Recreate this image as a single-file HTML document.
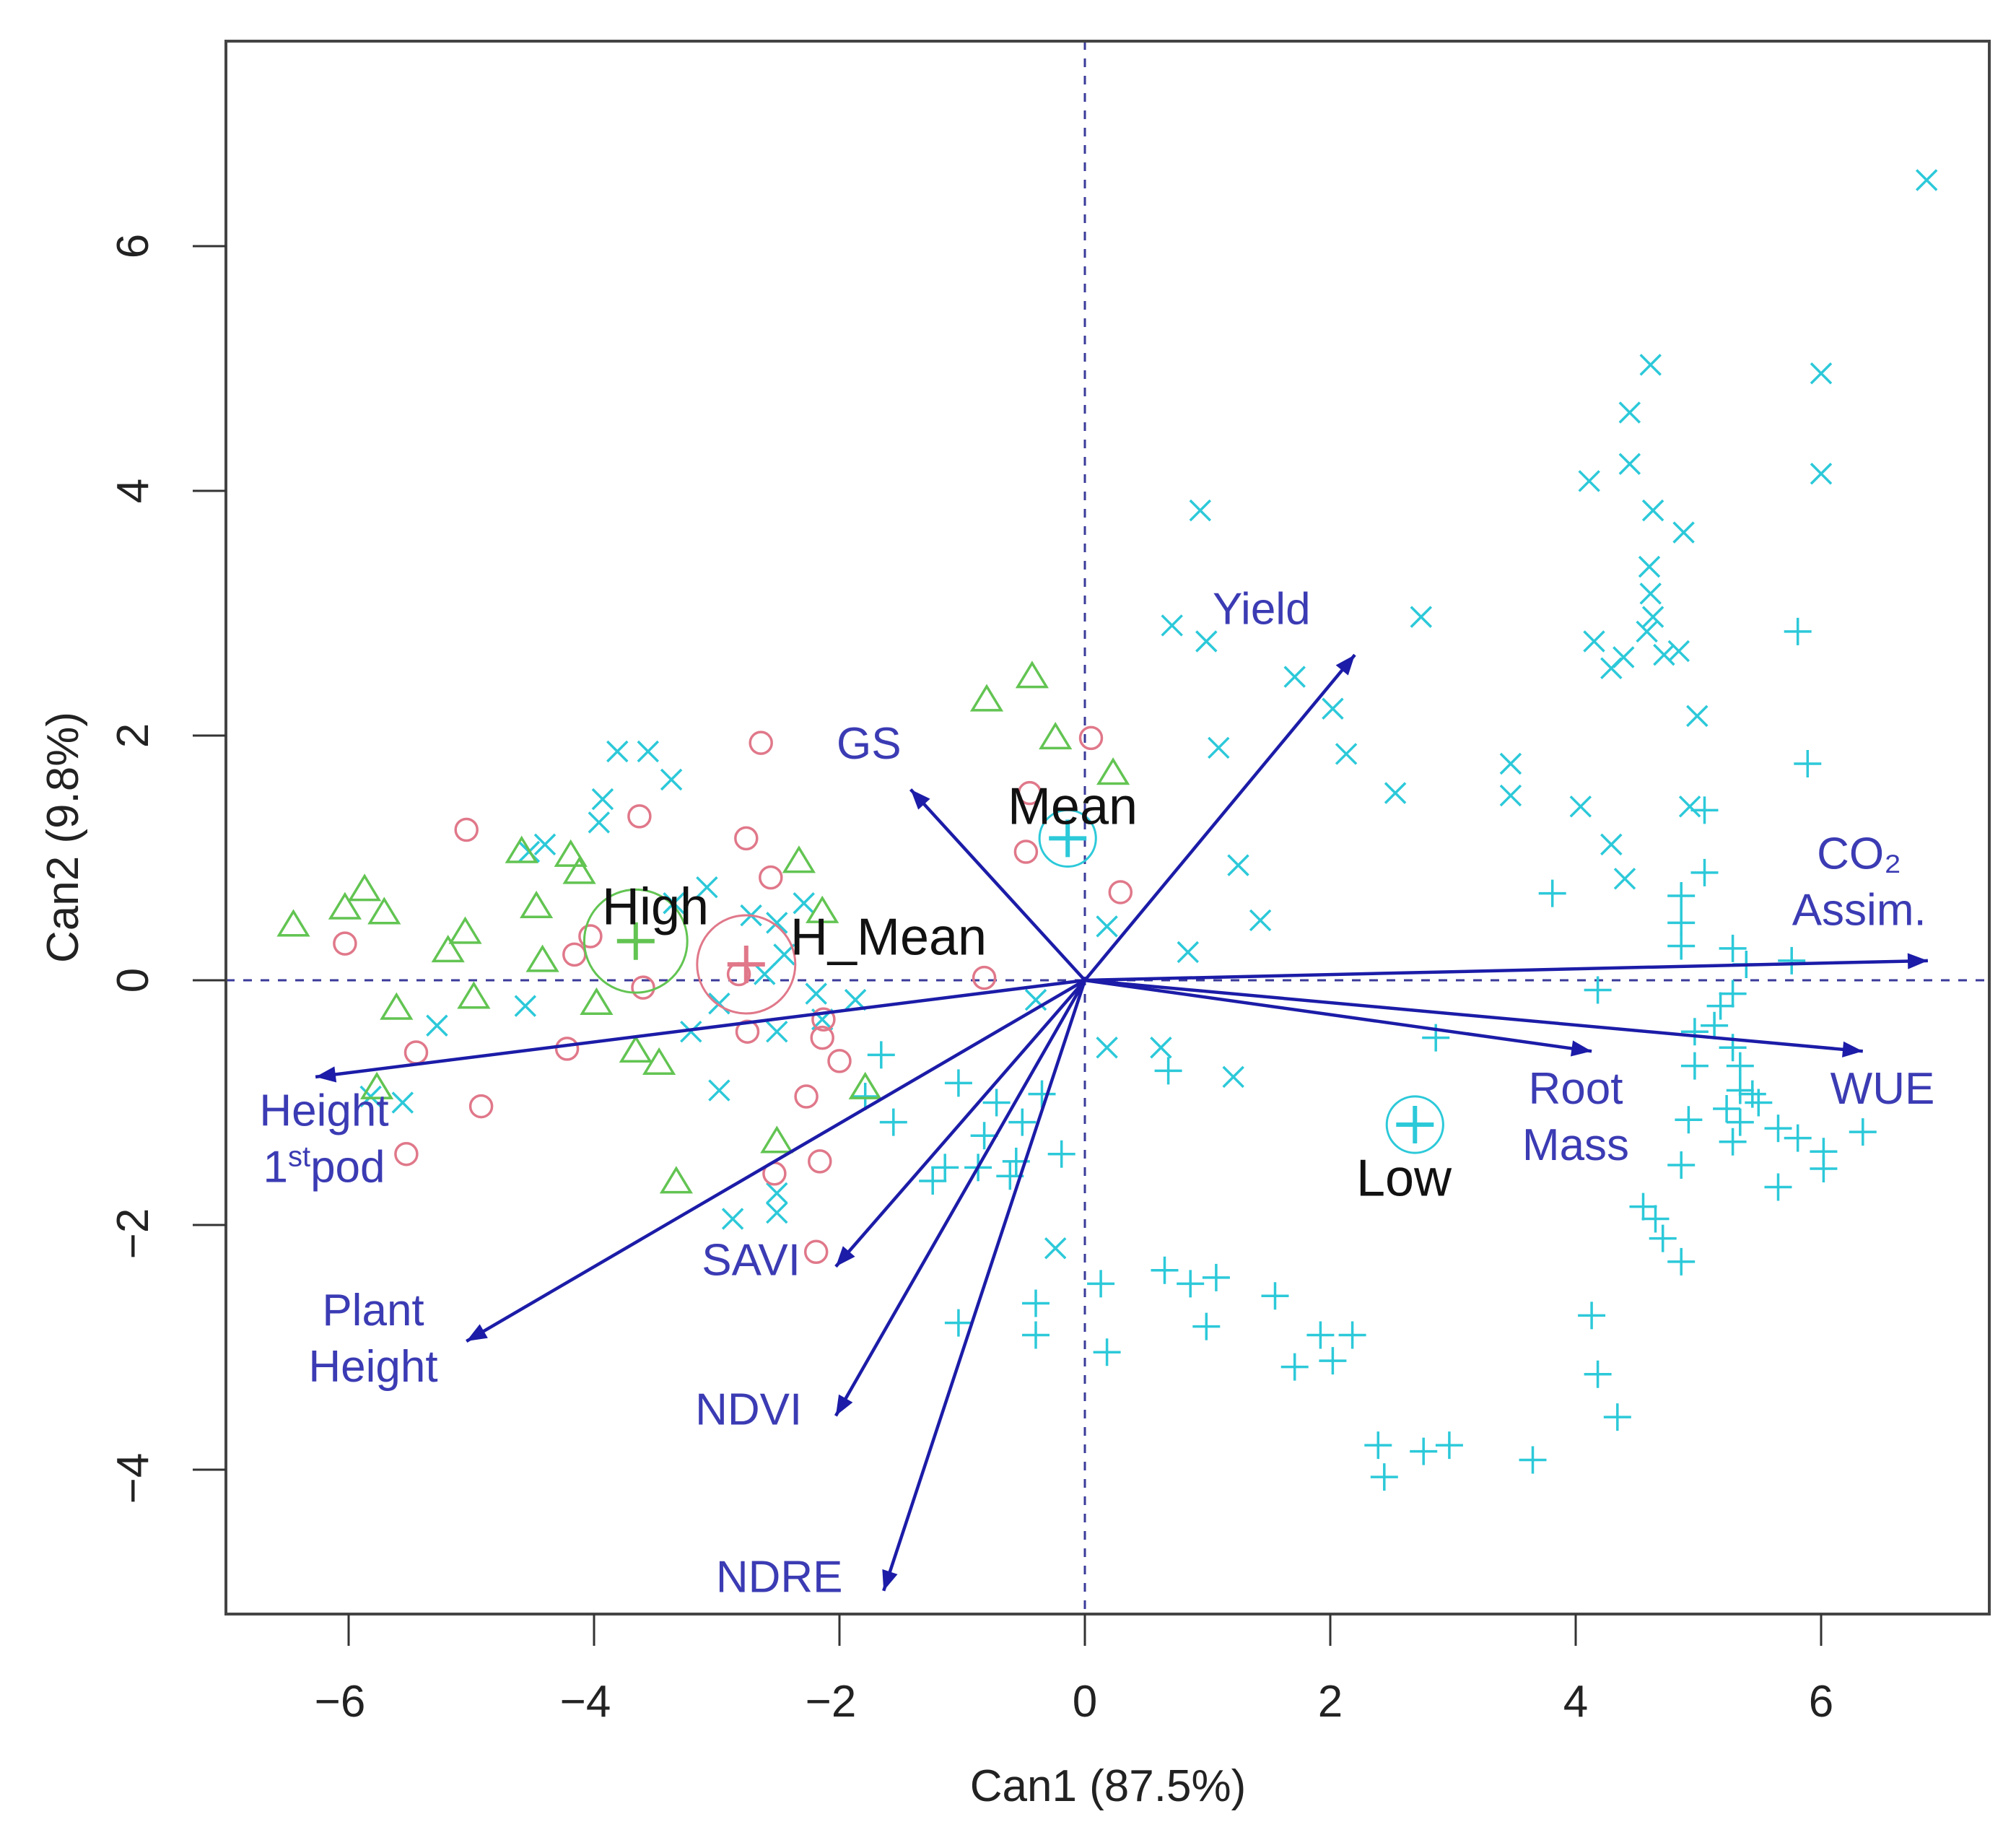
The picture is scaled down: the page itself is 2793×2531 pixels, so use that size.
<!DOCTYPE html>
<html><head><meta charset="utf-8"><style>
html,body{margin:0;padding:0;background:#fff}
svg{display:block}
text{font-family:"Liberation Sans",sans-serif}
</style></head><body>
<svg id="chart" width="2793" height="2531" viewBox="0 0 2793 2531" xmlns="http://www.w3.org/2000/svg">
<rect x="0" y="0" width="2793" height="2531" fill="#fff"/>
<g id="marks"></g>
<rect x="313" y="57" width="2443" height="2179" fill="none" stroke="#444" stroke-width="4"/>
<g id="axes"></g>
<text x="1535" y="2495" font-size="62" fill="#222" text-anchor="middle">Can1 (87.5%)</text>
<text transform="translate(108,1160) rotate(-90)" font-size="62" fill="#222" text-anchor="middle">Can2 (9.8%)</text>
</svg>
<script>
const xTicks=[-6,-4,-2,0,2,4,6];
const yTicks=[-4,-2,0,2,4,6];
const tickLabels=["−6","−4","−2","0","2","4","6"];
const yTickLabels=["−4","−2","0","2","4","6"];
const meanX=[[6.86,6.54],[4.61,5.03],[6.0,4.96],[4.44,4.64],[6.0,4.14],[4.44,4.22],[4.11,4.08],[0.94,3.84],[4.63,3.84],[4.88,3.66],[4.6,3.38],[4.61,3.16],[4.63,2.97],[4.58,2.85],[0.71,2.9],[0.99,2.77],[2.74,2.97],[4.15,2.77],[4.39,2.64],[4.29,2.55],[4.72,2.66],[4.84,2.69],[1.71,2.48],[2.02,2.22],[4.99,2.16],[2.13,1.85],[1.09,1.9],[3.47,1.77],[3.47,1.51],[2.53,1.53],[4.04,1.42],[4.93,1.42],[4.29,1.11],[1.25,0.94],[4.4,0.83],[1.43,0.49],[0.84,0.23],[-3.81,1.87],[-3.56,1.87],[-3.37,1.64],[-3.93,1.48],[-3.96,1.29],[-4.4,1.11],[-4.53,1.05],[-3.35,0.63],[-3.08,0.76],[-2.29,0.63],[-2.72,0.53],[-2.51,0.47],[-2.45,0.21],[-2.61,0.05],[-2.19,-0.11],[-2.98,-0.19],[-2.51,-0.42],[-3.21,-0.42],[-2.98,-0.9],[-4.56,-0.21],[-5.28,-0.37],[-5.56,-1.0],[-2.87,-1.95],[-2.51,-1.9],[-2.51,-1.74],[0.18,0.44],[-0.4,-0.16],[0.18,-0.55],[0.62,-0.55],[1.21,-0.79],[-0.24,-2.19],[-1.87,-0.16],[-2.14,-0.32],[-5.82,-0.95]];
const lowPlus=[[2.86,-0.47],[0.68,-0.74],[4.18,-0.08],[3.81,0.71],[5.81,2.85],[5.89,1.77],[5.05,1.39],[5.05,0.88],[4.86,0.69],[4.86,0.47],[4.86,0.28],[5.28,0.26],[5.76,0.16],[5.39,0.13],[5.28,-0.11],[5.18,-0.21],[5.13,-0.37],[4.97,-0.42],[5.28,-0.55],[4.97,-0.7],[5.34,-0.7],[5.34,-0.9],[5.44,-0.93],[5.49,-1.0],[5.23,-1.05],[5.34,-1.16],[5.65,-1.21],[4.92,-1.14],[5.28,-1.32],[6.34,-1.24],[5.81,-1.29],[6.02,-1.4],[6.02,-1.54],[4.86,-1.51],[5.65,-1.69],[4.55,-1.85],[4.65,-1.95],[4.71,-2.11],[4.86,-2.3],[-1.66,-0.61],[-1.79,-0.95],[-1.56,-1.16],[-1.03,-0.84],[-0.72,-1.0],[-0.35,-0.93],[-0.51,-1.16],[-0.82,-1.27],[-0.87,-1.53],[-1.14,-1.53],[-1.24,-1.64],[-0.56,-1.48],[-0.61,-1.6],[-0.19,-1.42],[0.13,-2.48],[0.65,-2.37],[0.86,-2.48],[1.07,-2.43],[1.55,-2.58],[0.99,-2.83],[0.18,-3.04],[-0.4,-2.64],[-0.4,-2.9],[-1.03,-2.8],[1.71,-3.16],[2.02,-3.11],[1.92,-2.9],[2.18,-2.9],[2.39,-3.8],[2.44,-4.06],[2.76,-3.85],[2.97,-3.8],[3.65,-3.92],[4.13,-2.74],[4.18,-3.22],[4.34,-3.57]];
const hmeanCircles=[[-2.64,1.94],[0.05,1.98],[-5.04,1.23],[-3.63,1.34],[-2.76,1.16],[-2.56,0.84],[-0.48,1.05],[0.29,0.72],[-4.16,0.21],[-3.6,-0.06],[-6.03,0.3],[-5.45,-0.59],[-4.92,-1.03],[-4.22,-0.56],[-2.75,-0.42],[-2.14,-0.47],[-2.0,-0.66],[-2.27,-0.95],[-0.82,0.02],[-2.53,-1.58],[-2.16,-1.48],[-5.53,-1.42],[-2.19,-2.22],[-2.82,0.05],[-4.03,0.36],[-2.13,-0.32],[-0.45,1.53]];
const highTriangles=[[-0.8,2.29],[-0.43,2.48],[-0.24,1.98],[0.23,1.69],[-6.45,0.45],[-6.03,0.59],[-5.87,0.74],[-5.71,0.55],[-5.05,0.39],[-4.59,1.05],[-4.19,1.02],[-4.12,0.88],[-4.47,0.6],[-5.19,0.24],[-4.98,-0.14],[-5.61,-0.23],[-4.42,0.16],[-3.98,-0.19],[-3.66,-0.58],[-3.47,-0.68],[-3.33,-1.65],[-2.51,-1.32],[-2.33,0.97],[-2.14,0.56],[-5.77,-0.88],[-1.79,-0.88]];
const groupNames=["High","H_Mean","Mean","Low"];
const groupMeans=[[-3.66,0.32],[-2.76,0.13],[-0.14,1.16],[2.69,-1.18]];
const groupRadius=[0.42,0.4,0.23,0.23];
const varNames=["Yield","GS","CO2 Assim.","WUE","Root Mass","Height 1st pod","Plant Height","SAVI","NDVI","NDRE"];
const varX=[2.2,-1.42,6.87,6.34,4.13,-6.27,-5.04,-2.03,-2.03,-1.64];
const varY=[2.66,1.56,0.16,-0.58,-0.58,-0.79,-2.95,-2.34,-3.56,-4.99];

const NS="http://www.w3.org/2000/svg";
const X=v=>1503+170*v, Y=v=>1358-169.5*v;
const marks=document.getElementById('marks'), axes=document.getElementById('axes');
function mk(tag,attrs,parent){const e=document.createElementNS(NS,tag);for(const k in attrs)e.setAttribute(k,attrs[k]);(parent||marks).appendChild(e);return e;}
const CY="#2cc9d9",RD="#e0788a",GR="#62c452",AR="#1c1ca8",LB="#3b3bb4";

// reference lines
let l=mk('line',{x1:X(0),x2:X(0),y1:57,y2:2236,stroke:"#3a3a9a","stroke-width":3,"stroke-dasharray":"12 12"});


l=mk('line',{x1:313,x2:2756,y1:Y(0),y2:Y(0),stroke:"#3a3a9a","stroke-width":3,"stroke-dasharray":"12 12"});



// ticks
xTicks.forEach((t,i)=>{
  const g=mk('line',{x1:X(t),x2:X(t),y1:2236,y2:2280,stroke:"#333","stroke-width":3},axes);
  
  
  const tx=mk('text',{x:X(t)-(t<0?12:0),y:2378,"font-size":62,fill:"#222","text-anchor":"middle"},axes);
  tx.textContent=tickLabels[i];
  
  
});
yTicks.forEach((t,i)=>{
  const g=mk('line',{x1:267,x2:313,y1:Y(t),y2:Y(t),stroke:"#333","stroke-width":3},axes);
  
  
  const tx=mk('text',{transform:`translate(205,${Y(t)+(t<0?12:0)}) rotate(-90)`,"font-size":62,fill:"#222","text-anchor":"middle"},axes);
  tx.textContent=yTickLabels[i];
  
  
});

// points
meanX.forEach(p=>{const x=X(p[0]),y=Y(p[1]),s=14;
  const e=mk('path',{d:`M${x-s} ${y-s}L${x+s} ${y+s}M${x-s} ${y+s}L${x+s} ${y-s}`,stroke:CY,"stroke-width":3.5,fill:"none"});
  
  });
lowPlus.forEach(p=>{const x=X(p[0]),y=Y(p[1]),s=19;
  const e=mk('path',{d:`M${x-s} ${y}L${x+s} ${y}M${x} ${y-s}L${x} ${y+s}`,stroke:CY,"stroke-width":3.5,fill:"none"});
  
  });
hmeanCircles.forEach(p=>{
  const e=mk('circle',{cx:X(p[0]),cy:Y(p[1]),r:15,stroke:RD,"stroke-width":3.5,fill:"none"});
  
  });
highTriangles.forEach(p=>{const x=X(p[0]),y=Y(p[1]);
  const e=mk('path',{d:`M${x} ${y-19}L${x+20} ${y+14}L${x-20} ${y+14}Z`,stroke:GR,"stroke-width":3.5,fill:"none"});
  
  });

// group means
const gcol=[GR,RD,CY,CY];
groupMeans.forEach((m,i)=>{const x=X(m[0]),y=Y(m[1]),s=26;
  const c=mk('circle',{cx:x,cy:y,r:groupRadius[i]*170,stroke:gcol[i],"stroke-width":3,fill:"none"});
  
  
  const p=mk('path',{d:`M${x-s} ${y}L${x+s} ${y}M${x} ${y-s}L${x} ${y+s}`,stroke:gcol[i],"stroke-width":6});
  
  
});
const gLab=[[-3.5,0.6],[-1.6,0.35],[-0.1,1.42],[2.6,-1.62]];
groupNames.forEach((n,i)=>{
  const t=mk('text',{x:X(gLab[i][0]),y:Y(gLab[i][1])+24,"font-size":72,fill:"#111","text-anchor":"middle"});
  t.textContent=n;
  
  
});

// arrows
varX.forEach((vx,i)=>{const x0=X(0),y0=Y(0),x1=X(vx),y1=Y(varY[i]);
  const a=mk('line',{x1:x0,y1:y0,x2:x1,y2:y1,stroke:AR,"stroke-width":4.5});
  
  
  const ang=Math.atan2(y1-y0,x1-x0),L=30,W=0.38;
  const h=mk('path',{d:`M${x1} ${y1}L${x1-L*Math.cos(ang-W)} ${y1-L*Math.sin(ang-W)}L${x1-L*Math.cos(ang+W)} ${y1-L*Math.sin(ang+W)}Z`,fill:AR});
  
  
});
// arrow labels (lines of text per variable)
const labLines=[["Yield"],["GS"],["CO₂","Assim."],["WUE"],["Root","Mass"],["Height","1st pod"],["Plant","Height"],["SAVI"],["NDVI"],["NDRE"]];
const labAt=[[1.44,3.04],[-1.76,1.94],[6.31,1.04],[6.5,-0.88],[4.0,-0.88],[-6.2,-1.06],[-5.8,-2.69],[-2.72,-2.28],[-2.74,-3.5],[-2.49,-4.87]];
labLines.forEach((ls,i)=>{
  ls.forEach((s,j)=>{
    const t=mk('text',{x:X(labAt[i][0]),y:Y(labAt[i][1])+22+j*78,"font-size":62,fill:LB,"text-anchor":"middle"});
    if(s==="1st pod"){t.innerHTML='1<tspan font-size="40" dy="-22">st</tspan><tspan dy="22">pod</tspan>';}
    else t.textContent=s;
    
    
  });
});
</script>
</body></html>
